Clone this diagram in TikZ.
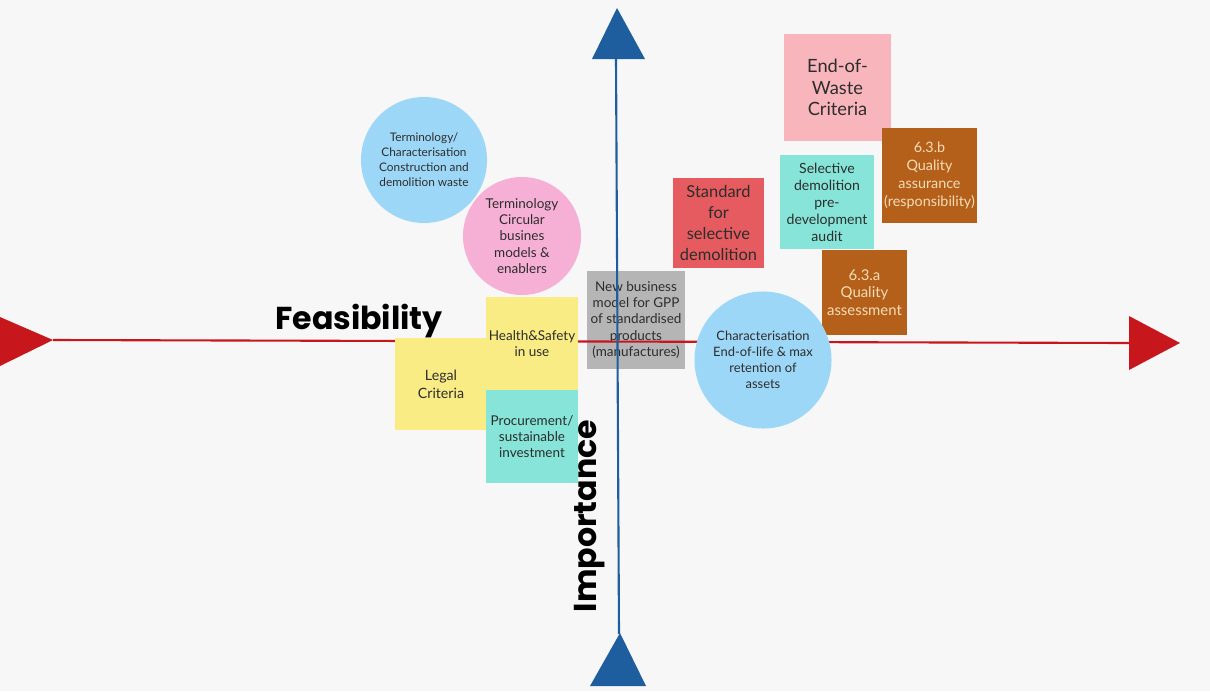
\documentclass[tikz,border=0pt]{standalone}
\usepackage{fontspec}
\setmainfont{Lato}
\newfontfamily\axisfont{Poppins}
\definecolor{bgc}{HTML}{F7F7F7}
\definecolor{axred}{HTML}{C8161D}
\definecolor{axblue}{HTML}{1E5E9E}
\definecolor{cblue}{HTML}{9DD7F7}
\definecolor{cpink}{HTML}{F7B0D5}
\definecolor{pyellow}{HTML}{F9EC84}
\definecolor{pteal}{HTML}{86E5D8}
\definecolor{pgray}{HTML}{B5B5B5}
\definecolor{pred}{HTML}{E55B5F}
\definecolor{prose}{HTML}{F8B6BC}
\definecolor{pbrown}{HTML}{B4601B}
\definecolor{ptext}{HTML}{2D2D2D}
\definecolor{pcream}{HTML}{F5DDB5}
\begin{document}
\begin{tikzpicture}[x=0.025cm,y=-0.025cm,
  note/.style={rectangle,inner sep=0pt,align=center,text=ptext,font=\fontsize{9.6}{11.6}\selectfont},
  blob/.style={circle,inner sep=0pt,align=center,text=ptext,font=\fontsize{9.2}{11.4}\selectfont},
  axlabel/.style={font=\axisfont\bfseries\fontsize{22.5}{24}\selectfont,inner sep=0pt}]
\useasboundingbox[fill=bgc] (0,0) rectangle (1210,691);
% circles top left
\node[blob,fill=cblue,minimum size=3.15cm,font=\fontsize{8.4}{10.7}\selectfont] (termcdw) at (424,160)
  {Terminology/\\Characterisation\\Construction and\\demolition waste};
\node[blob,fill=cpink,minimum size=2.95cm,font=\fontsize{9.6}{11.7}\selectfont] (termcbm) at (522,236)
  {Terminology\\Circular\\busines\\models \&\\enablers};
% grey note sits under both axes
\node[note,fill=pgray,minimum width=2.45cm,minimum height=2.425cm] (gpp) at (636,320)
  {New business\\model for GPP\\of standardised\\products\\(manufactures)};
% axes
\coordinate (west) at (53,340); \coordinate (east) at (1130,343);
\coordinate (south) at (619,634); \coordinate (north) at (616,58);
\draw[axred,line width=1.5pt] (west) -- (east);
\fill[axred] (0,317) -- (west) -- (0,366) -- cycle;
\fill[axred] (1129,316) -- (1180,343) -- (1129,370) -- cycle;
\draw[axblue,line width=1.5pt] (south) -- (north);
\fill[axblue] (592,59) -- (617,8) -- (645,59) -- cycle;
\fill[axblue] (590,686) -- (620,633) -- (646,686) -- cycle;
\node[axlabel,anchor=base] (feas) at (359,329) {Feasibility};
\node[axlabel,rotate=90] (imp) at (590,516) {Importance};
% notes left of centre
\node[note,fill=pyellow,minimum width=2.3cm,minimum height=2.275cm,font=\fontsize{10.1}{12.8}\selectfont] (legal) at (441,384)
  {Legal\\Criteria};
\node[note,fill=pyellow,minimum width=2.3cm,minimum height=2.325cm] (hs) at (532,343.5)
  {Health\&Safety\\in use};
\node[note,fill=pteal,minimum width=2.3cm,minimum height=2.325cm] (proc) at (532,436.5)
  {Procurement/\\sustainable\\investment};
% notes right of centre
\node[note,fill=pred,minimum width=2.275cm,minimum height=2.25cm,font=\fontsize{11.7}{15}\selectfont] (stdsel) at (718.5,223)
  {Standard\\for\\selective\\demolition};
\node[note,fill=prose,minimum width=2.675cm,minimum height=2.675cm,font=\fontsize{13}{15.3}\selectfont] (eow) at (837.5,87.5)
  {End-of-\\Waste\\Criteria};
\node[note,fill=pteal,minimum width=2.35cm,minimum height=2.35cm,font=\fontsize{10}{12.1}\selectfont] (audit) at (827,202)
  {Selective\\demolition\\pre-\\development\\audit};
\node[note,fill=pbrown,text=pcream,minimum width=2.375cm,minimum height=2.375cm,font=\fontsize{10.2}{12.8}\selectfont] (qab) at (929.5,175.5)
  {6.3.b\\Quality\\assurance\\(responsibility)};
\node[note,fill=pbrown,text=pcream,minimum width=2.125cm,minimum height=2.125cm,font=\fontsize{10.6}{12.4}\selectfont] (qaa) at (864.5,292.5)
  {6.3.a\\Quality\\assessment};
\node[blob,fill=cblue,minimum size=3.425cm] (eol) at (763,360)
  {Characterisation\\End-of-life \& max\\retention of\\assets};
\end{tikzpicture}
\end{document}
